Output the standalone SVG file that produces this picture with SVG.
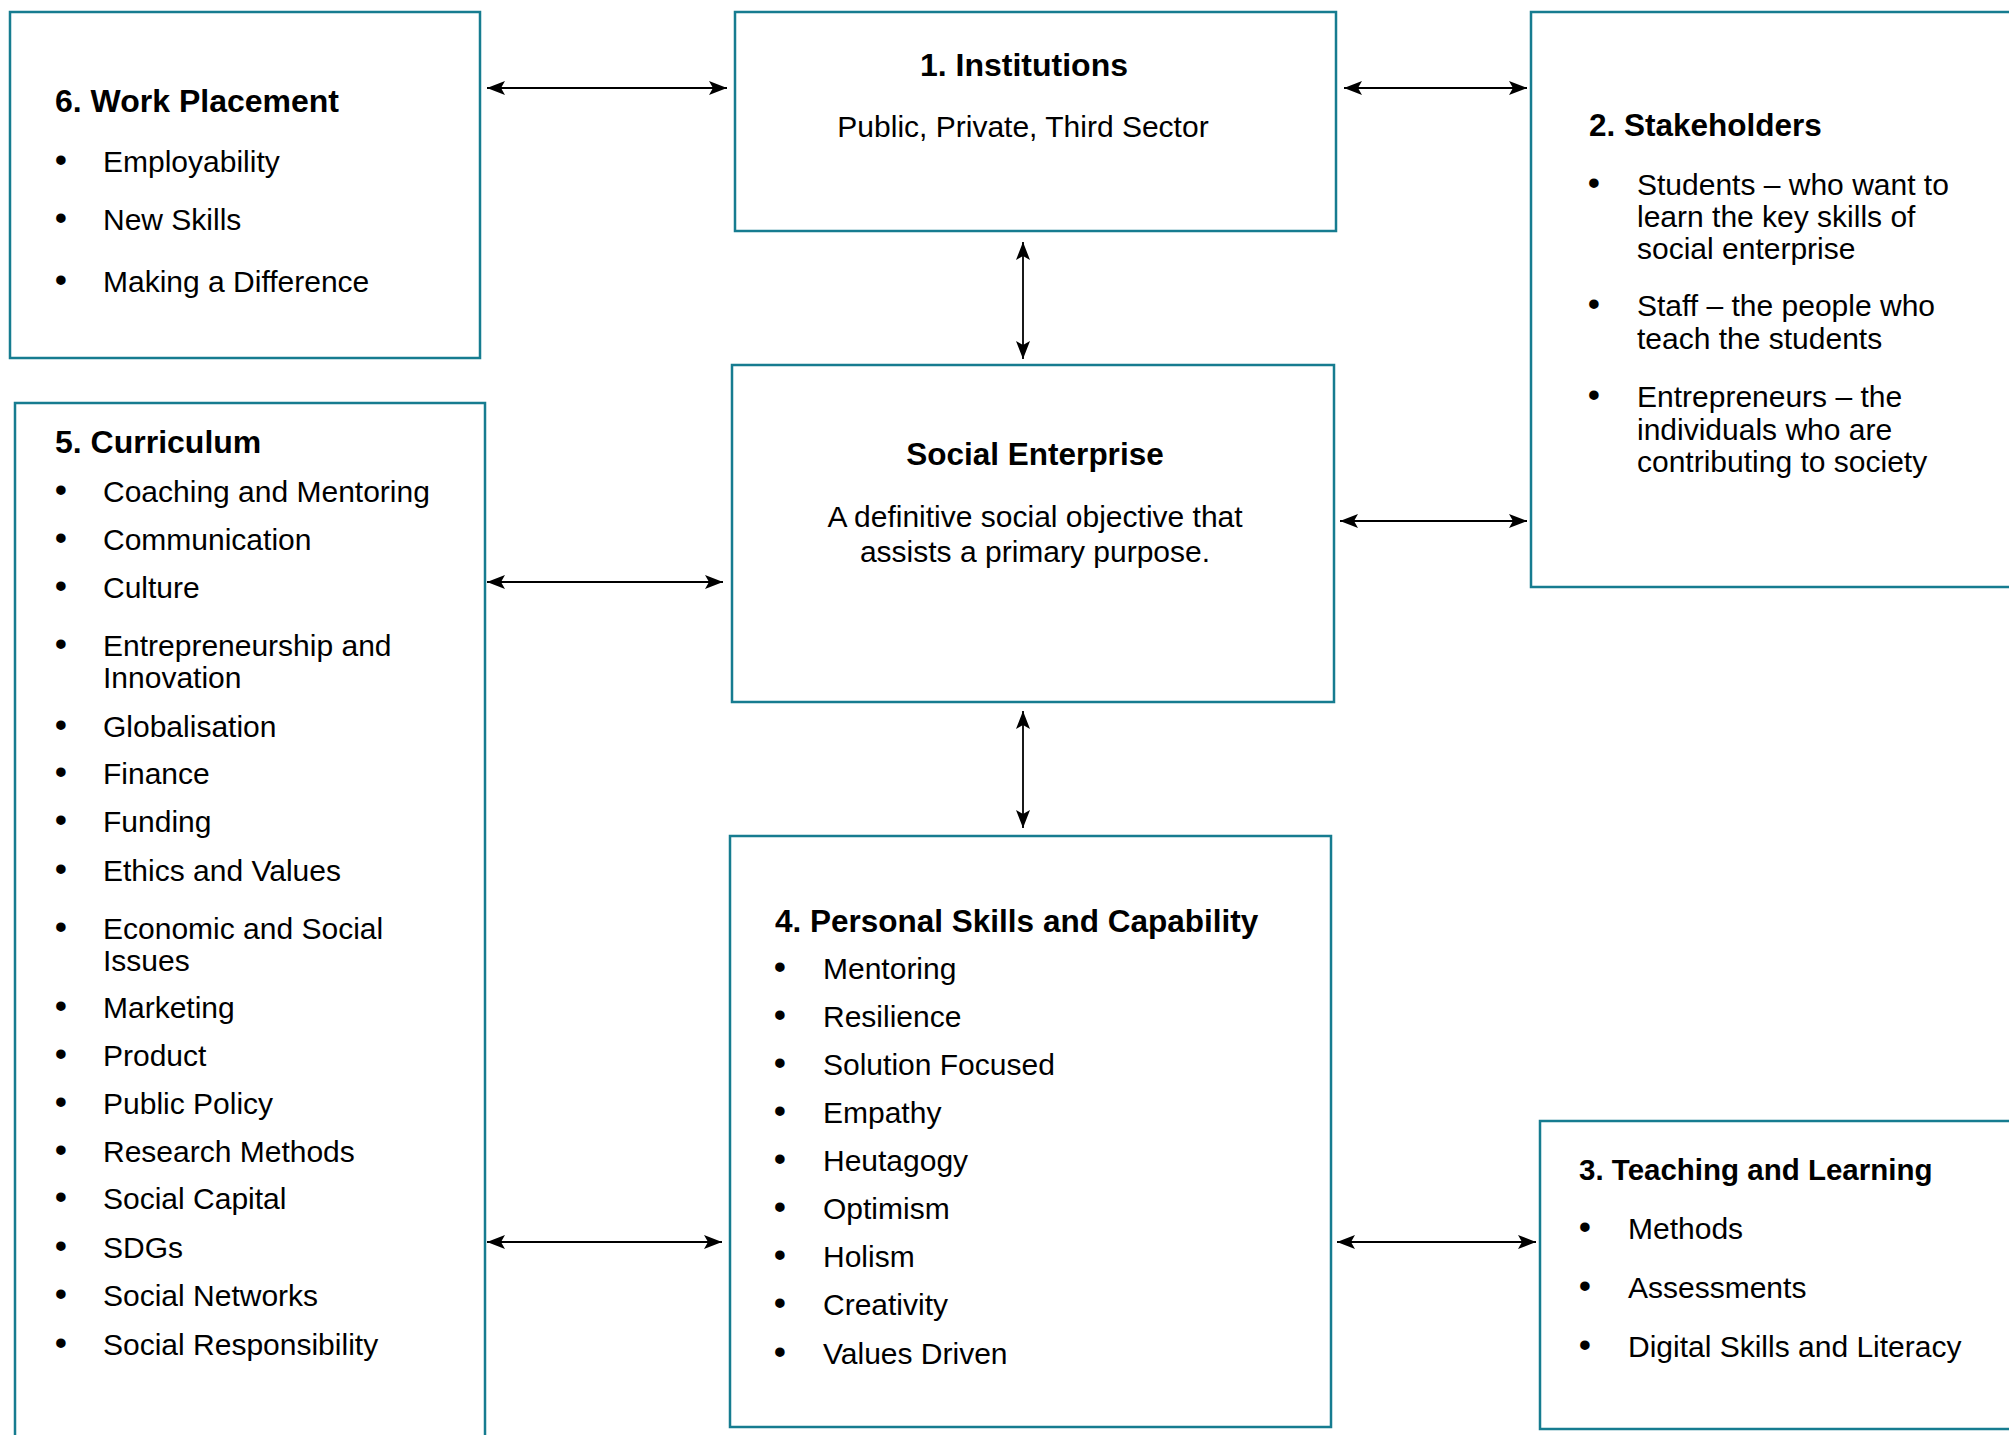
<svg xmlns="http://www.w3.org/2000/svg" width="2009" height="1435" viewBox="0 0 2009 1435">
<style>
.box{fill:#ffffff;stroke:#167c90;stroke-width:2.5}
.t{font-family:"Liberation Sans",Arial,sans-serif;font-size:30px;fill:#000000}
.h{font-family:"Liberation Sans",Arial,sans-serif;font-size:31.5px;font-weight:bold;fill:#000000}
.c{text-anchor:middle}
.bl{font-size:35px}
.con{stroke:#000000;stroke-width:2;fill:none;marker-start:url(#ah);marker-end:url(#ah)}
</style>
<defs>
<marker id="ah" viewBox="0 0 18 14" refX="18" refY="7" markerWidth="18" markerHeight="14" markerUnits="userSpaceOnUse" orient="auto-start-reverse">
<path d="M0,0 L18,7 L0,14 L4,7 Z" fill="#000000"/>
</marker>
</defs>
<rect width="2009" height="1435" fill="#ffffff"/>

<g id="connectors">
<line class="con" x1="487" y1="88" x2="727" y2="88"/>
<line class="con" x1="1344" y1="88" x2="1527" y2="88"/>
<line class="con" x1="487" y1="582" x2="723" y2="582"/>
<line class="con" x1="1340" y1="521" x2="1527" y2="521"/>
<line class="con" x1="487" y1="1242" x2="722" y2="1242"/>
<line class="con" x1="1337" y1="1242" x2="1536" y2="1242"/>
<line class="con" style="stroke-width:1.8" x1="1023" y1="242" x2="1023" y2="359"/>
<line class="con" style="stroke-width:1.8" x1="1023" y1="711" x2="1023" y2="828"/>
</g>

<g id="work-placement">
<rect class="box" x="10" y="12" width="470" height="346"/>
<text class="h" x="55" y="112" style="font-size:32px">6. Work Placement</text>
<text class="t c bl" x="61" y="172">•</text><text class="t" x="103" y="172">Employability</text>
<text class="t c bl" x="61" y="230">•</text><text class="t" x="103" y="230">New Skills</text>
<text class="t c bl" x="61" y="292">•</text><text class="t" x="103" y="292">Making a Difference</text>
</g>

<g id="institutions">
<rect class="box" x="735" y="12" width="601" height="219"/>
<text class="h c" x="1024" y="76" style="font-size:32px">1. Institutions</text>
<text class="t c" x="1023" y="137">Public, Private, Third Sector</text>
</g>

<g id="stakeholders">
<rect class="box" x="1531" y="12" width="500" height="575"/>
<text class="h" x="1589" y="136">2. Stakeholders</text>
<text class="t c bl" x="1594" y="195">•</text>
<text class="t" x="1637" y="195">Students – who want to</text>
<text class="t" x="1637" y="227">learn the key skills of</text>
<text class="t" x="1637" y="259">social enterprise</text>
<text class="t c bl" x="1594" y="316">•</text>
<text class="t" x="1637" y="316">Staff – the people who</text>
<text class="t" x="1637" y="349">teach the students</text>
<text class="t c bl" x="1594" y="407">•</text>
<text class="t" x="1637" y="407">Entrepreneurs – the</text>
<text class="t" x="1637" y="440">individuals who are</text>
<text class="t" x="1637" y="472">contributing to society</text>
</g>

<g id="curriculum">
<rect class="box" x="15" y="403" width="470" height="1100"/>
<text class="h" x="55" y="453" style="font-size:32px">5. Curriculum</text>
<text class="t c bl" x="61" y="502">•</text><text class="t" x="103" y="502">Coaching and Mentoring</text>
<text class="t c bl" x="61" y="550">•</text><text class="t" x="103" y="550">Communication</text>
<text class="t c bl" x="61" y="598">•</text><text class="t" x="103" y="598">Culture</text>
<text class="t c bl" x="61" y="656">•</text><text class="t" x="103" y="656">Entrepreneurship and</text>
<text class="t" x="103" y="688">Innovation</text>
<text class="t c bl" x="61" y="737">•</text><text class="t" x="103" y="737">Globalisation</text>
<text class="t c bl" x="61" y="784">•</text><text class="t" x="103" y="784">Finance</text>
<text class="t c bl" x="61" y="832">•</text><text class="t" x="103" y="832">Funding</text>
<text class="t c bl" x="61" y="881">•</text><text class="t" x="103" y="881">Ethics and Values</text>
<text class="t c bl" x="61" y="939">•</text><text class="t" x="103" y="939">Economic and Social</text>
<text class="t" x="103" y="971">Issues</text>
<text class="t c bl" x="61" y="1018">•</text><text class="t" x="103" y="1018">Marketing</text>
<text class="t c bl" x="61" y="1066">•</text><text class="t" x="103" y="1066">Product</text>
<text class="t c bl" x="61" y="1114">•</text><text class="t" x="103" y="1114">Public Policy</text>
<text class="t c bl" x="61" y="1162">•</text><text class="t" x="103" y="1162">Research Methods</text>
<text class="t c bl" x="61" y="1209">•</text><text class="t" x="103" y="1209">Social Capital</text>
<text class="t c bl" x="61" y="1258">•</text><text class="t" x="103" y="1258">SDGs</text>
<text class="t c bl" x="61" y="1306">•</text><text class="t" x="103" y="1306">Social Networks</text>
<text class="t c bl" x="61" y="1355">•</text><text class="t" x="103" y="1355">Social Responsibility</text>
</g>

<g id="social-enterprise">
<rect class="box" x="732" y="365" width="602" height="337"/>
<text class="h c" x="1035" y="465">Social Enterprise</text>
<text class="t c" x="1035" y="527">A definitive social objective that</text>
<text class="t c" x="1035" y="562">assists a primary purpose.</text>
</g>

<g id="personal-skills">
<rect class="box" x="730" y="836" width="601" height="591"/>
<text class="h" x="775" y="932">4. Personal Skills and Capability</text>
<text class="t c bl" x="780" y="979">•</text><text class="t" x="823" y="979">Mentoring</text>
<text class="t c bl" x="780" y="1027">•</text><text class="t" x="823" y="1027">Resilience</text>
<text class="t c bl" x="780" y="1075">•</text><text class="t" x="823" y="1075">Solution Focused</text>
<text class="t c bl" x="780" y="1123">•</text><text class="t" x="823" y="1123">Empathy</text>
<text class="t c bl" x="780" y="1171">•</text><text class="t" x="823" y="1171">Heutagogy</text>
<text class="t c bl" x="780" y="1219">•</text><text class="t" x="823" y="1219">Optimism</text>
<text class="t c bl" x="780" y="1267">•</text><text class="t" x="823" y="1267">Holism</text>
<text class="t c bl" x="780" y="1315">•</text><text class="t" x="823" y="1315">Creativity</text>
<text class="t c bl" x="780" y="1364">•</text><text class="t" x="823" y="1364">Values Driven</text>
</g>

<g id="teaching-learning">
<rect class="box" x="1540" y="1121" width="500" height="308"/>
<text class="h" x="1579" y="1180" style="font-size:29.5px">3. Teaching and Learning</text>
<text class="t c bl" x="1585" y="1239">•</text><text class="t" x="1628" y="1239">Methods</text>
<text class="t c bl" x="1585" y="1298">•</text><text class="t" x="1628" y="1298">Assessments</text>
<text class="t c bl" x="1585" y="1357">•</text><text class="t" x="1628" y="1357">Digital Skills and Literacy</text>
</g>
</svg>
